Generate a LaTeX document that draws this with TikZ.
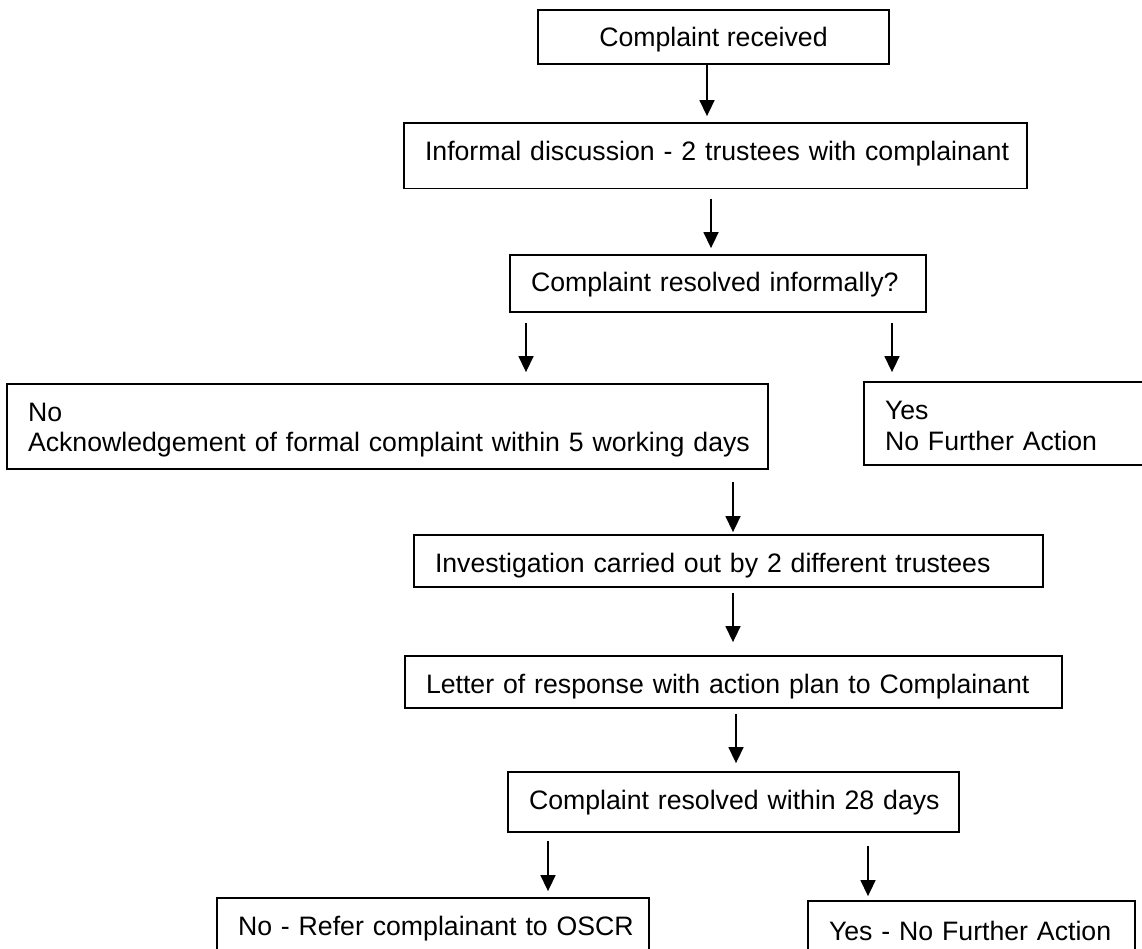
\documentclass[tikz,border=0pt]{standalone}
\usepackage{fontspec}
\setmainfont{Liberation Sans}
\usetikzlibrary{arrows.meta,calc}
\tikzset{
  box/.style={draw=black, line width=1.8pt, rectangle, inner sep=0pt,
    font=\fontsize{26.67pt}{30.7pt}\selectfont, align=left},
  arr/.style={line width=1.5pt, -{Triangle[width=15pt,length=16pt]}}
}
\begin{document}
\begin{tikzpicture}[x=1pt,y=-1pt]
\useasboundingbox (0,0) rectangle (1142,949);
\clip (0,0) rectangle (1142,949);
\fill[white] (0,0) rectangle (1142,949);
% boxes
\node[box, align=center, minimum width=351pt, minimum height=54pt, text height=30pt, text depth=10pt] (b1) at (713.5,37) {Complaint received};
\node[box, minimum width=623pt, minimum height=65.5pt, text width=581pt, text height=24.5pt, text depth=15.5pt] (b2) at (715.5,155.75) {\mbox{Informal discussion - 2 trustees with complainant}};
\node[box, minimum width=416pt, minimum height=57pt, text width=374pt, text height=28.5pt, text depth=11.5pt] (b3) at (718,283.5) {\mbox{Complaint resolved informally?}};
\node[box, minimum width=761pt, minimum height=85pt, text width=719pt, text height=14.5pt, text depth=25.5pt] (b4) at (387.5,426.5) {No\\\mbox{Acknowledgement of formal complaint within 5 working days}};
\node[box, minimum width=286pt, minimum height=83pt, text width=244pt, text height=16pt, text depth=24pt] (b5) at (1007,423.5) {Yes\\\mbox{No Further Action}};
\node[box, minimum width=629pt, minimum height=52pt, text width=587pt, text height=31pt, text depth=9pt] (b6) at (728.5,561) {\mbox{Investigation carried out by 2 different trustees}};
\node[box, minimum width=657pt, minimum height=52pt, text width=615pt, text height=31pt, text depth=9pt] (b7) at (733.5,682) {\mbox{Letter of response with action plan to Complainant}};
\node[box, minimum width=451pt, minimum height=60pt, text width=409pt, text height=27pt, text depth=13pt] (b8) at (733.5,802) {\mbox{Complaint resolved within 28 days}};
\node[box, minimum width=432pt, minimum height=62pt, text width=390pt, text height=26pt, text depth=14pt] (b9) at (433,929) {\mbox{No - Refer complainant to OSCR}};
\node[box, minimum width=327pt, minimum height=62pt, text width=285pt, text height=28.5pt, text depth=11.5pt] (b10) at (971.5,932) {\mbox{Yes - No Further Action}};
% connectors
\draw[arr] ($(b1.south)+(-6.5,0)$) -- ($(b2.north)+(-8.5,-6)$);
\draw[arr] ($(b2.south)+(-4.5,9.5)$) -- ($(b3.north)+(-7,-6)$);
\draw[arr] ($(b3.south)+(-192,10)$) -- ($(b4.north)+(138.5,-11)$);
\draw[arr] ($(b3.south)+(174,10)$) -- ($(b5.north)+(-115,-9)$);
\draw[arr] ($(b4.south)+(345.5,12)$) -- ($(b6.north)+(4.5,-2)$);
\draw[arr] ($(b6.south)+(4.5,5)$) -- ($(b7.north)+(-0.5,-13)$);
\draw[arr] ($(b7.south)+(2.5,5)$) -- ($(b8.north)+(2.5,-8)$);
\draw[arr] ($(b8.south)+(-185.5,8)$) -- ($(b9.north)+(115,-6)$);
\draw[arr] ($(b8.south)+(134.5,13)$) -- ($(b10.north)+(-103.5,-4)$);
\end{tikzpicture}
\end{document}
